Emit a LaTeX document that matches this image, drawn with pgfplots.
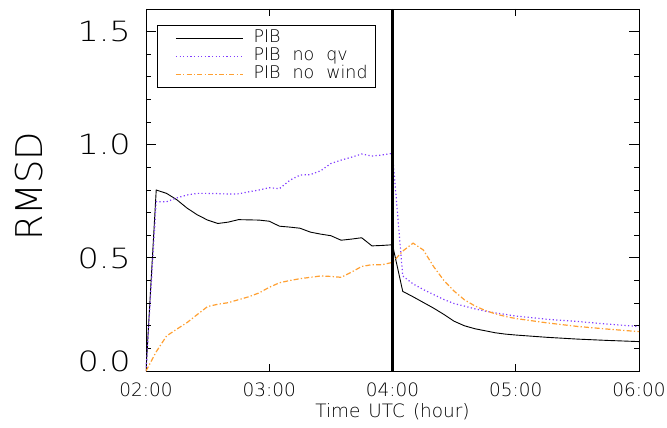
\documentclass[border=0pt]{standalone}
\usepackage{fontspec}
\setmainfont{DejaVu Sans ExtraLight}
\newfontfamily\tickfont{DejaVu Sans ExtraLight}[FakeStretch=1.2]
\usepackage{pgfplots}
\pgfplotsset{compat=1.18}
\definecolor{pviolet}{RGB}{128,60,255}
\definecolor{porange}{RGB}{255,160,50}
\begin{document}
\begin{tikzpicture}
\begin{axis}[
  scale only axis, width=493bp, height=362bp,
  xmin=2, xmax=6, ymin=0, ymax=1.6,
  clip=true,
  axis line style={line width=0.9bp, black},
  xtick={2,3,4,5,6}, xticklabels={02:00,03:00,04:00,05:00,06:00},
  ytick={0,0.5,1,1.5}, yticklabels={\raisebox{20bp}{0.0},0.5,1.0,1.5},
  minor y tick num=4,
  tick align=inside,
  xtick pos=both, ytick pos=both,
  xticklabel pos=lower, yticklabel pos=left,
  major tick length=10bp, minor tick length=5bp,
  xtick style={/pgfplots/major tick length=7bp},
  tick style={black, line width=0.8bp},
  xticklabel style={font=\fontsize{18.5}{20}\selectfont, inner sep=0pt, yshift=-12bp},
  yticklabel style={font=\tickfont\fontsize{28}{30}\selectfont, inner sep=0pt, xshift=-15bp},
  xlabel={Time\hspace{8bp}UTC\hspace{8bp}(hour)},
  xlabel style={font=\fontsize{18.5}{20}\selectfont, at={(axis description cs:0.5,-0.113)}, anchor=center},
  ylabel={RMSD},
  ylabel style={font=\fontsize{37}{39}\selectfont, at={(axis description cs:-0.2373,0.51)}, anchor=center},
  legend style={at={(axis description cs:0.0223,0.955)}, anchor=north west,
    draw=black, line width=0.8bp, font=\fontsize{17.5}{19}\selectfont,
    inner xsep=8bp, inner ysep=5bp, row sep=2bp, column sep=0bp,
    nodes={inner sep=0pt, text height=12bp, text depth=4bp},
    cells={anchor=west}},
  legend image code/.code={\path (-10bp,0bp); \draw[#1] (0bp,0bp) -- (67bp,0bp); \path (77bp,0bp);},
]
\addplot[black, line width=0.9bp] coordinates {
(2.0,0) (2.083,0.80) (2.167,0.785) (2.25,0.757) (2.333,0.72) (2.417,0.69) (2.5,0.667)
(2.583,0.652) (2.667,0.658) (2.75,0.669) (2.833,0.668) (2.917,0.667) (3.0,0.662)
(3.083,0.640) (3.167,0.636) (3.25,0.631) (3.333,0.614) (3.417,0.605) (3.5,0.598)
(3.583,0.578) (3.667,0.583) (3.75,0.589) (3.833,0.553) (3.917,0.555) (4.0,0.558)
(4.083,0.352) (4.167,0.328) (4.25,0.303) (4.333,0.278) (4.417,0.250) (4.5,0.220)
(4.583,0.200) (4.667,0.187) (4.75,0.178) (4.833,0.169) (4.917,0.163) (5.0,0.159)
(5.25,0.149) (5.5,0.141) (5.75,0.135) (6.0,0.130)
};
\addlegendentry{PIB\hspace{12bp}}
\addplot[pviolet, line width=1.2bp, dash pattern=on 1.2bp off 2.4bp] coordinates {
(2.0,0) (2.083,0.748) (2.167,0.748) (2.25,0.765) (2.333,0.778) (2.417,0.785) (2.5,0.785)
(2.583,0.784) (2.667,0.782) (2.75,0.783) (2.833,0.792) (2.917,0.800) (3.0,0.810)
(3.083,0.806) (3.167,0.843) (3.25,0.866) (3.333,0.868) (3.417,0.885) (3.5,0.917)
(3.583,0.932) (3.667,0.945) (3.75,0.959) (3.833,0.950) (3.917,0.955) (4.0,0.962)
(4.083,0.420) (4.167,0.385) (4.25,0.360) (4.333,0.338) (4.417,0.316) (4.5,0.298)
(4.583,0.287) (4.667,0.275) (4.75,0.265) (4.833,0.257) (4.917,0.250) (5.0,0.243)
(5.25,0.229) (5.5,0.219) (5.75,0.207) (6.0,0.197)
};
\addlegendentry{PIB\hspace{12bp}no\hspace{12bp}qv}
\addplot[porange, line width=1.2bp, dash pattern=on 5bp off 2.2bp on 1.3bp off 2.2bp] coordinates {
(2.0,0) (2.083,0.085) (2.167,0.155) (2.25,0.185) (2.333,0.214) (2.417,0.250) (2.5,0.285)
(2.583,0.295) (2.667,0.302) (2.75,0.315) (2.833,0.328) (2.917,0.345) (3.0,0.370)
(3.083,0.390) (3.167,0.400) (3.25,0.408) (3.333,0.414) (3.417,0.420) (3.5,0.418)
(3.583,0.414) (3.667,0.437) (3.75,0.462) (3.833,0.470) (3.917,0.470) (4.0,0.480)
(4.083,0.530) (4.167,0.565) (4.25,0.535) (4.333,0.462) (4.417,0.400) (4.5,0.353)
(4.583,0.315) (4.667,0.288) (4.75,0.268) (4.833,0.253) (4.917,0.241) (5.0,0.232)
(5.25,0.213) (5.5,0.197) (5.75,0.185) (6.0,0.174)
};
\addlegendentry{PIB\hspace{12bp}no\hspace{12bp}wind}
\addplot[black, line width=2.2bp, forget plot] coordinates {(4,0) (4,1.6)};
\coordinate (ll) at (rel axis cs:0,0);
\coordinate (ur) at (rel axis cs:1,1);
\end{axis}
\path ([shift={(-146bp,-57bp)}]ll) rectangle ([shift={(28bp,9bp)}]ur);
\end{tikzpicture}
\end{document}
